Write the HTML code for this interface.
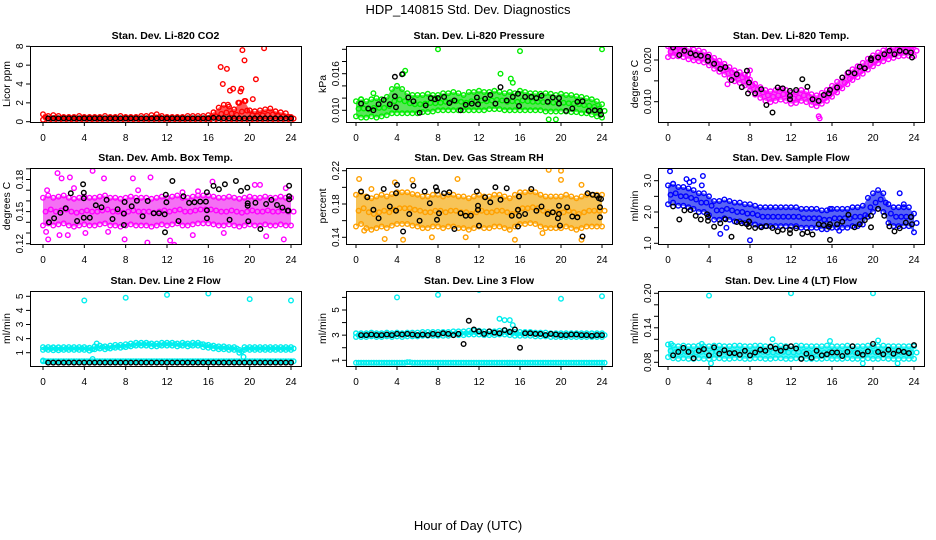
<!DOCTYPE html>
<html><head><meta charset="utf-8">
<style>
html,body{margin:0;padding:0;background:#fff;}
svg{display:block;font-family:"Liberation Sans",Arial,sans-serif;}
</style></head>
<body>
<svg id="chart" width="936" height="540" viewBox="0 0 936 540" xmlns="http://www.w3.org/2000/svg">
<text x="468" y="14" text-anchor="middle" font-size="13">HDP_140815  Std. Dev. Diagnostics</text>
<text x="468" y="530" text-anchor="middle" font-size="13">Hour of Day (UTC)</text>
</svg>
<script>
// ---------- data ----------
const xTicks=[0,4,8,12,16,20,24];
// P1 CO2
const co2Hi=[0.8,0.6,0.7,0.6,0.5,0.5,0.5,0.6,0.5,0.5, 0.5,0.5,0.6,0.5,0.5,0.6,0.5,0.5,0.5,0.6, 0.6,0.7,0.8,0.6,0.5,0.5,0.5,0.5,0.6,0.6, 0.6,0.6,0.7,1.0,1.5,1.8,1.6,1.3,2.0,2.2, 1.2,1.1,1.2,1.3,1.4,1.1,1.0,0.9,0.5];
const co2Lo=[0.2,0.15,0.15,0.15,0.15,0.15,0.15,0.15,0.15,0.15, 0.15,0.15,0.15,0.15,0.15,0.15,0.15,0.15,0.15,0.15, 0.15,0.15,0.15,0.15,0.15,0.15,0.15,0.15,0.15,0.15, 0.15,0.15,0.15,0.15,0.15,0.15,0.15,0.15,0.15,0.15, 0.15,0.15,0.15,0.15,0.15,0.15,0.15,0.15,0.15];
const co2OutH=[17.2,17.4,17.8,18.1,18.4,19.3,19.5,19.2,19.1,20.3,20.6,21.4,17.9,19.6,18.9];
const co2OutV=[5.8,4.0,5.6,3.3,3.5,7.6,6.5,3.5,3.2,2.4,4.5,7.8,1.8,2.2,2.0];
const co2Blk=[0.35,0.35,0.35,0.35,0.35,0.35,0.35,0.35,0.35,0.35, 0.35,0.35,0.35,0.35,0.35,0.35,0.35,0.35,0.35,0.35, 0.35,0.35,0.35,0.35,0.35,0.35,0.35,0.35,0.35,0.35, 0.35,0.35,0.4,0.38,0.36,0.35,0.35,0.35,0.35,0.35, 0.35,0.35,0.35,0.35,0.35,0.35,0.35,0.35];
// P2 Pressure
const prHi=[.0115,.0118,.0115,.0118,.0120,.0118,.0122,.0135,.0140,.0135, .0128,.0125,.0125,.0125,.0127,.0125,.0125,.0128,.0128,.0130, .0128,.0125,.0130,.0130,.0132,.0130,.0130,.0132,.0130,.0128, .0130,.0128,.0132,.0130,.0128,.0128,.0127,.0128,.0127,.0125, .0127,.0125,.0125,.0123,.0122,.0120,.0118,.0115,.0110];
const prLo=[.0090,.0088,.0088,.0090,.0088,.0090,.0092,.0095,.0095,.0095, .0095,.0095,.0095,.0097,.0097,.0098,.0100,.0100,.0100,.0100, .0100,.0100,.0100,.0100,.0100,.0100,.0102,.0102,.0102,.0100, .0100,.0100,.0100,.0100,.0100,.0100,.0100,.0098,.0098,.0098, .0098,.0098,.0097,.0097,.0095,.0095,.0093,.0090,.0088];
const prOutH=[8,16,24,4.8,14.1,15.1,1.7,0.5,18.8,19.5,15.3,4.6];
const prOutV=[.0200,.0197,.0200,.0165,.0160,.0152,.0128,.0118,.0085,.0085,.0145,.0160];
const prBlkH=[0.5,1.2,1.7,2.2,2.7,3.3,3.8,3.8,3.9,4.5,5.1,5.6,6.2,6.8,7.3,7.7,8.0,8.6,9.1,9.6,10.2,10.7,11.3,11.8,11.9,12.6,13.1,13.6,14.1,14.7,15.3,15.8,15.9,16.5,17.1,17.6,18.1,18.7,19.2,19.8,19.8,20.5,21.1,21.6,22.1,22.7,23.3,23.8,23.9];
const prBlkV=[.0111,.0103,.0100,.0110,.0117,.0110,.0155,.0123,.0105,.0159,.0121,.0115,.0096,.0108,.0120,.0118,.0120,.0122,.0112,.0116,.0100,.0109,.0111,.0121,.0110,.0119,.0125,.0111,.0138,.0116,.0122,.0127,.0107,.0122,.0122,.0120,.0124,.0114,.0121,.0111,.0120,.0099,.0103,.0114,.0115,.0099,.0100,.0099,.0093];
// P3 Li-820 Temp
const tmpMid=[.0220,.0222,.0222,.0220,.0215,.0212,.0210,.0207,.0200,.0192, .0185,.0178,.0170,.0162,.0158,.0152,.0140,.0130,.0122,.0115, .0112,.0115,.0118,.0115,.0108,.0110,.0115,.0112,.0105,.0102, .0108,.0115,.0125,.0135,.0145,.0155,.0165,.0172,.0180,.0190, .0198,.0205,.0210,.0215,.0218,.0222,.0223,.0223,.0222];
const tmpSpread=0.0013;
const tmpOutH=[14.7,14.8,5.8,8.0,7.8];
const tmpOutV=[.0065,.0060,.0142,.0175,.0165];
const tmpBlkH=[0.5,1.1,1.6,2.2,2.7,3.2,3.9,3.9,4.5,5.1,5.6,6.2,6.7,7.2,7.7,7.9,7.8,8.5,9.1,9.6,10.2,10.7,11.2,11.9,11.9,11.9,12.5,13.1,13.6,14.1,14.7,15.2,15.7,15.8,16.5,17.0,17.6,18.2,18.7,19.2,19.8,19.8,20.5,21.1,21.6,22.1,22.6,23.2,23.7,23.8];
const tmpBlkV=[.0230,.0212,.0222,.0216,.0212,.0210,.0208,.0198,.0191,.0179,.0183,.0152,.0166,.0135,.0174,.0146,.0120,.0120,.0130,.0092,.0074,.0134,.0132,.0126,.0114,.0106,.0128,.0154,.0136,.0106,.0102,.0116,.0120,.0128,.0134,.0158,.0170,.0168,.0184,.0180,.0200,.0204,.0206,.0214,.0222,.0214,.0222,.0220,.0218,.0206];
// P4 Amb box temp
const ambMid=[0.150,0.152,0.150,0.151,0.152,0.150,0.149,0.150,0.151,0.150, 0.150,0.151,0.152,0.150,0.150,0.149,0.150,0.151,0.150,0.150, 0.150,0.149,0.150,0.151,0.150,0.151,0.152,0.150,0.150,0.151, 0.152,0.152,0.152,0.151,0.150,0.150,0.151,0.150,0.149,0.150, 0.151,0.150,0.150,0.151,0.150,0.150,0.151,0.150,0.150];
const ambSpread=0.013;
const ambOutH=[1.4,1.8,2.6,4.8,5.9,0.4,8.7,10.4,16.4,20.5,21,23.5,0.3,0.5,1.6,7.9,10.1,12.7,18.9,23.3,4.1,6.3,14.5,17.5,21.6,2.4,12.3,3.0,9.2,13.5,15.0];
const ambOutV=[0.186,0.181,0.182,0.188,0.181,0.170,0.181,0.182,0.178,0.175,0.175,0.172,0.131,0.124,0.128,0.124,0.121,0.119,0.117,0.124,0.130,0.131,0.128,0.130,0.127,0.128,0.123,0.172,0.170,0.168,0.169];
const ambBlkH=[0.58,1.07,1.68,2.2,2.69,3.3,3.88,3.95,3.95,3.95,4.53,5.11,5.66,6.15,6.73,7.22,7.83,7.83,7.9,8.58,9.09,9.64,10.13,10.71,11.23,11.78,11.81,11.88,11.94,12.52,13.11,13.59,14.14,14.66,15.21,15.76,15.86,15.86,15.86,16.5,17.02,17.6,18.06,18.67,19.16,19.77,19.81,19.81,19.87,20.55,21.04,21.59,22.1,22.65,23.17,23.69,23.82,23.82,23.82,23.75];
const ambBlkV=[0.1400,0.1437,0.1490,0.1531,0.1671,0.1412,0.1755,0.1443,0.1677,0.1624,0.1443,0.1559,0.1540,0.1609,0.1431,0.1522,0.1481,0.1375,0.1590,0.1550,0.1602,0.1456,0.1599,0.1484,0.1484,0.1475,0.1307,0.1658,0.1587,0.1786,0.1412,0.1643,0.1581,0.1587,0.1593,0.1593,0.1681,0.1512,0.1437,0.1740,0.1709,0.1755,0.1424,0.1786,0.1693,0.1724,0.1578,0.1555,0.1409,0.1583,0.1337,0.1571,0.1609,0.1562,0.1537,0.1509,0.1643,0.1742,0.1615,0.1509];
// P5 Gas stream RH
const rhMid=[0.172,0.175,0.170,0.168,0.170,0.172,0.170,0.173,0.175,0.175, 0.175,0.173,0.172,0.170,0.170,0.172,0.172,0.170,0.172,0.172, 0.170,0.170,0.168,0.170,0.172,0.170,0.170,0.172,0.172,0.170, 0.168,0.172,0.175,0.175,0.176,0.175,0.172,0.170,0.170,0.170, 0.170,0.172,0.170,0.168,0.170,0.172,0.172,0.172,0.172];
const rhSpread=0.019;
const rhOutH=[0.3,0.8,2.8,4.6,5.5,7.4,9.9,10.7,15.5,18.8,20,20,22,22,18.2,3.8,1.5];
const rhOutV=[0.210,0.148,0.138,0.137,0.209,0.140,0.210,0.140,0.137,0.221,0.220,0.209,0.203,0.137,0.145,0.206,0.198];
const rhBlkH=[0.5,1.1,1.7,2.2,2.7,3.3,3.9,4.0,3.9,4.6,5.2,5.6,6.2,6.7,7.2,7.8,7.9,7.9,8.1,8.6,9.1,9.6,10.2,10.7,11.2,11.8,11.9,11.9,12.0,12.6,13.1,13.6,14.1,14.7,15.2,15.8,15.9,15.8,15.9,16.5,17.1,17.6,18.1,18.7,19.2,19.7,19.8,19.8,19.9,20.6,21.1,21.6,22.1,22.6,23.1,23.5,23.7,23.8,23.8,23.9];
const rhBlkV=[0.195,0.188,0.173,0.163,0.198,0.177,0.193,0.203,0.172,0.147,0.168,0.202,0.160,0.195,0.181,0.200,0.196,0.161,0.169,0.193,0.194,0.150,0.169,0.166,0.166,0.195,0.178,0.173,0.154,0.188,0.182,0.200,0.185,0.199,0.166,0.173,0.166,0.153,0.189,0.168,0.198,0.172,0.177,0.168,0.170,0.163,0.178,0.168,0.154,0.176,0.165,0.164,0.141,0.193,0.191,0.190,0.187,0.176,0.164,0.186];
// P6 Sample flow
const sfMid=[2.55,2.6,2.5,2.5,2.45,2.4,2.3,2.3,2.2,2.05, 2.05,2.1,2.05,2.0,2.0,1.95,1.95,1.9,1.85,1.85, 1.85,1.85,1.85,1.85,1.85,1.85,1.8,1.8,1.8,1.8, 1.75,1.75,1.8,1.8,1.8,1.8,1.85,1.85,1.9,2.15, 2.3,2.4,2.3,1.95,1.85,1.85,1.85,1.85,1.65];
const sfSpread=0.3;
const sfOutH=[0.2,0.5,1.8,2.1,2.5,3.4,3.3,5.1,5.7,8,22.6,23,16.7,15.8];
const sfOutV=[3.3,2.9,3.05,2.95,3.0,3.15,2.85,1.3,1.5,1.1,2.6,2.25,1.4,2.1];
const sfBlkH=[0.5,1.1,1.6,2.2,2.7,3.2,3.8,3.9,3.9,4.5,5.1,5.6,6.2,6.7,7.2,7.7,7.9,7.9,8.5,9.1,9.6,10.2,10.7,11.2,11.9,11.9,12.5,13.1,13.6,14.1,14.7,15.2,15.7,15.8,15.8,16.5,17.0,17.6,18.2,18.7,19.2,19.8,19.8,20.5,21.1,21.6,22.1,22.6,23.2,23.7,23.8];
const sfBlkV=[2.18,1.76,2.05,2.06,1.88,1.76,1.93,1.84,1.72,1.53,1.64,1.77,1.21,1.68,1.64,1.61,1.70,1.53,1.49,1.51,1.55,1.49,1.38,1.43,1.32,1.43,1.48,1.30,1.35,1.28,1.61,1.58,1.53,1.61,1.11,1.61,1.69,1.91,1.51,1.61,1.74,1.51,1.88,2.10,1.88,1.54,1.38,1.48,1.66,1.84,1.61];
// P7 Line 2 flow
const l2Mid=[1.3,1.3,1.28,1.28,1.3,1.3,1.3,1.3,1.3,1.25, 1.35,1.4,1.35,1.4,1.45,1.45,1.5,1.55,1.6,1.6, 1.6,1.55,1.55,1.6,1.6,1.6,1.55,1.6,1.55,1.6, 1.6,1.5,1.45,1.4,1.35,1.35,1.3,1.3,1.1,1.3, 1.3,1.3,1.3,1.3,1.3,1.3,1.3,1.3,1.3];
const l2Spread=0.1;
const l2Low=[0.4,0.4,0.4,0.4,0.4,0.4,0.4,0.4,0.4,0.4, 0.4,0.4,0.4,0.4,0.4,0.4,0.4,0.4,0.4,0.4, 0.4,0.4,0.4,0.4,0.4,0.4,0.4,0.4,0.4,0.4, 0.4,0.4,0.4,0.4,0.4,0.4,0.4,0.4,0.4,0.4, 0.4,0.4,0.4,0.4,0.4,0.4,0.4,0.4,0.4];
const l2OutH=[4,8,12,16,20,24,5.2,4.8,19.4,0];
const l2OutV=[4.7,4.9,5.1,5.2,4.8,4.7,1.65,0.55,0.7,0.45];
const l2Blk=[0.3,0.3,0.3,0.3,0.3,0.3,0.3,0.3,0.3,0.3, 0.3,0.3,0.3,0.3,0.3,0.3,0.3,0.3,0.3,0.3, 0.3,0.3,0.3,0.3,0.3,0.3,0.3,0.3,0.3,0.3, 0.3,0.3,0.3,0.3,0.3,0.3,0.3,0.3,0.3,0.3, 0.3,0.3,0.3,0.3,0.3,0.3,0.3,0.3];
// P8 Line 3 flow
const l3Mid=[3.0,3.0,3.0,3.05,3.0,3.0,3.05,3.0,3.05,3.0, 3.05,3.05,3.05,3.1,3.1,3.1,3.1,3.1,3.1,3.15, 3.15,3.15,3.2,3.2,3.2,3.15,3.15,3.15,3.2,3.2, 3.15,3.1,3.1,3.1,3.1,3.05,3.05,3.05,3.0,3.0, 3.0,3.0,3.0,3.0,3.0,3.0,3.0,3.0,3.0];
const l3Spread=0.15;
const l3Low=[0.8,0.8,0.8,0.8,0.8,0.8,0.8,0.8,0.8,0.8, 0.85,0.8,0.8,0.8,0.8,0.8,0.8,0.8,0.8,0.8, 0.8,0.8,0.8,0.8,0.8,0.8,0.8,0.8,0.8,0.8, 0.8,0.8,0.8,0.8,0.8,0.8,0.8,0.8,0.8,0.8, 0.8,0.8,0.8,0.8,0.8,0.8,0.8,0.8,0.8];
const l3OutH=[4,8,12,16,20,24,14,14.5,15,15.3];
const l3OutV=[6.0,6.2,6.6,6.9,5.9,6.1,4.3,4.2,4.2,3.8];
const l3Blk=[3.0,3.0,3.05,3.0,3.0,3.05,3.0,3.1,3.05,3.1, 3.05,3.0,3.05,3.0,3.1,3.05,3.15,3.1,3.0,3.1, 2.3,4.15,3.45,3.3,3.1,3.3,3.2,3.15,3.4,3.25, 3.45,2.0,3.15,3.15,3.1,3.1,3.0,3.1,3.05,3.0, 3.0,3.05,3.05,3.0,3.0,2.95,3.0,3.0];
// P9 Line 4 flow
const l4Mid=[0.100,0.098,0.097,0.098,0.097,0.097,0.098,0.097,0.097,0.098, 0.098,0.097,0.097,0.098,0.098,0.097,0.097,0.098,0.098,0.097, 0.097,0.098,0.098,0.097,0.097,0.098,0.098,0.097,0.097,0.097, 0.097,0.098,0.097,0.097,0.097,0.098,0.097,0.097,0.097,0.098, 0.097,0.097,0.098,0.097,0.097,0.097,0.097,0.097,0.097];
const l4Spread=0.011;
const l4OutH=[4,12,20,4.2,19,22.4,0.3,20.5,10.2,15.8,3.3];
const l4OutV=[0.196,0.20,0.20,0.078,0.078,0.078,0.112,0.118,0.120,0.117,0.112];
const l4Blk=[0.092,0.098,0.105,0.098,0.087,0.100,0.103,0.092,0.106,0.095, 0.101,0.096,0.096,0.093,0.100,0.092,0.097,0.102,0.100,0.107, 0.104,0.100,0.106,0.108,0.104,0.086,0.095,0.088,0.100,0.092, 0.094,0.097,0.097,0.091,0.098,0.108,0.096,0.093,0.099,0.112, 0.098,0.094,0.102,0.095,0.100,0.098,0.096,0.110];

// ---------- layout ----------
const NS="http://www.w3.org/2000/svg";
const svg=document.getElementById('chart');
const cols=[{L:30,R:301,h0:43,h24:291},{L:346,R:612,h0:356,h24:602},{L:658,R:924,h0:668,h24:914}];
const rows=[{T:46,B:122},{T:168,B:244},{T:291,B:366}];
function el(tag,attrs,parent){const e=document.createElementNS(NS,tag);for(const k in attrs)e.setAttribute(k,attrs[k]);(parent||svg).appendChild(e);return e;}
function halfHours(n,start){const a=[];for(let i=0;i<n;i++)a.push(start+i*0.5);return a;}
function bandFrom(mid,s){return {hi:mid.map(v=>v+s),lo:mid.map(v=>v-s)};}

const panels=[
 {c:0,r:0,title:"Stan. Dev. Li-820 CO2",ylab:"Licor ppm",col:"#ff0000",fill:"#ff2020",ref:[0,121.7,8,46.3],ticks:[0,2,4,6,8],labs:["0","2","4","6","8"],hi:co2Hi,lo:co2Lo,oh:co2OutH,ov:co2OutV,bh:halfHours(48,0.5),bv:co2Blk},
 {c:1,r:0,title:"Stan. Dev. Li-820 Pressure",ylab:"kPa",col:"#00ee00",fill:"#22dd22",ref:[0.010,110.3,0.016,73.7],ticks:[0.010,0.012,0.014,0.016,0.018,0.020],labs:["0.010","","","0.016","",""],hi:prHi,lo:prLo,oh:prOutH,ov:prOutV,bh:prBlkH,bv:prBlkV},
 {c:2,r:0,title:"Stan. Dev. Li-820 Temp.",ylab:"degrees C",col:"#ff00ff",fill:"#f020f0",ref:[0.010,101.7,0.020,60],ticks:[0.010,0.015,0.020],labs:["0.010","","0.020"],mid:tmpMid,sp:tmpSpread,oh:tmpOutH,ov:tmpOutV,bh:tmpBlkH,bv:tmpBlkV},
 {c:0,r:1,title:"Stan. Dev. Amb. Box Temp.",ylab:"degrees C",col:"#ff00ff",fill:"#f040f0",ref:[0.12,243.7,0.18,179.5],ticks:[0.12,0.13,0.14,0.15,0.16,0.17,0.18,0.19],labs:["0.12","","","0.15","","","0.18",""],mid:ambMid,sp:ambSpread,oh:ambOutH,ov:ambOutV,bh:ambBlkH,bv:ambBlkV},
 {c:1,r:1,title:"Stan. Dev. Gas Stream RH",ylab:"percent",col:"#ffa000",fill:"#f4b020",ref:[0.14,237.3,0.22,170.7],ticks:[0.14,0.16,0.18,0.20,0.22],labs:["0.14","","0.18","","0.22"],mid:rhMid,sp:rhSpread,oh:rhOutH,ov:rhOutV,bh:rhBlkH,bv:rhBlkV},
 {c:2,r:1,title:"Stan. Dev. Sample Flow",ylab:"ml/min",col:"#0000ff",fill:"#2030f0",ref:[1.0,243.3,3.0,180.7],ticks:[1.0,1.5,2.0,2.5,3.0],labs:["1.0","","2.0","","3.0"],mid:sfMid,sp:sfSpread,oh:sfOutH,ov:sfOutV,bh:sfBlkH,bv:sfBlkV},
 {c:0,r:2,title:"Stan. Dev. Line 2 Flow",ylab:"ml/min",col:"#00eeee",fill:"#20f0f0",ref:[1,352.7,5,296.3],ticks:[1,2,3,4,5],labs:["1","2","3","4","5"],mid:l2Mid,sp:l2Spread,low:l2Low,oh:l2OutH,ov:l2OutV,bh:halfHours(48,0.5),bv:l2Blk},
 {c:1,r:2,title:"Stan. Dev. Line 3 Flow",ylab:"ml/min",col:"#00eeee",fill:"#20f0f0",ref:[1,360.3,5,310],ticks:[1,2,3,4,5,6],labs:["1","","3","","5",""],mid:l3Mid,sp:l3Spread,low:l3Low,oh:l3OutH,ov:l3OutV,bh:halfHours(48,0.5),bv:l3Blk},
 {c:2,r:2,title:"Stan. Dev. Line 4 (LT) Flow",ylab:"ml/min",col:"#00eeee",fill:"#20f0f0",ref:[0.08,362.3,0.20,293.3],ticks:[0.08,0.10,0.12,0.14,0.16,0.18,0.20],labs:["0.08","","","0.14","","","0.20"],mid:l4Mid,sp:l4Spread,oh:l4OutH,ov:l4OutV,bh:halfHours(48,0.5),bv:l4Blk}
];

panels.forEach((p,pi)=>{
  const C=cols[p.c],R=rows[p.r];
  const xs=h=>C.h0+(h/24)*(C.h24-C.h0);
  const ys=v=>p.ref[1]+(v-p.ref[0])*(p.ref[3]-p.ref[1])/(p.ref[2]-p.ref[0]);
  const g=el('g',{});
  
  
  const clipId='clip'+pi;
  const cp=el('clipPath',{id:clipId},g);
  el('rect',{x:C.L,y:R.T,width:C.R-C.L,height:R.B-R.T},cp);
  const t=el('text',{x:(C.L+C.R)/2,y:R.T-7,'text-anchor':'middle','font-size':'10.5','font-weight':'bold'},g);
  t.textContent=p.title;
  
  
  const yl=el('text',{x:0,y:0,'text-anchor':'middle','font-size':'10.5',transform:`translate(${C.L-20},${(R.T+R.B)/2}) rotate(-90)`},g);
  yl.textContent=p.ylab;
  
  
  p.ticks.forEach((tv,i)=>{
    const y=ys(tv);
    const tk=el('line',{x1:C.L-4,x2:C.L,y1:y,y2:y,stroke:'#000','stroke-width':1},g);
    
    
    if(p.labs[i]){
      const tl=el('text',{x:0,y:0,'text-anchor':'middle','font-size':'10',transform:`translate(${C.L-7},${y}) rotate(-90)`},g);
      tl.textContent=p.labs[i];
      
      
    }
  });
  xTicks.forEach(h=>{
    const x=xs(h);
    const tk=el('line',{x1:x,x2:x,y1:R.B,y2:R.B+4,stroke:'#000','stroke-width':1},g);
    
    
    const tl=el('text',{x:x,y:R.B+19,'text-anchor':'middle','font-size':'10'},g);
    tl.textContent=String(h);
    
    
  });
  el('line',{x1:C.h0,x2:C.h24,y1:R.B+0.5,y2:R.B+0.5,stroke:'#000','stroke-width':1},g);
  const pg=el('g',{'clip-path':`url(#${clipId})`},g);
  
  
  let hi=p.hi,lo=p.lo;
  if(p.mid){const b=bandFrom(p.mid,p.sp);hi=b.hi;lo=b.lo;}
  const hh=halfHours(hi.length,0);
  let d='';
  hh.forEach((h,i)=>{d+=(i?'L':'M')+xs(h).toFixed(1)+','+ys(hi[i]).toFixed(1);});
  for(let i=hh.length-1;i>=0;i--)d+='L'+xs(hh[i]).toFixed(1)+','+ys(lo[i]).toFixed(1);
  const band=el('path',{d:d+'Z',fill:p.fill,'fill-opacity':0.75,stroke:'none'},pg);
  
  
  const pt=(h,v,col,nm)=>{
    const c=el('circle',{cx:xs(h).toFixed(1),cy:ys(v).toFixed(1),r:2.3,fill:'none',stroke:col,'stroke-width':1.4},pg);
    
    
  };
  hh.forEach((h,i)=>{pt(h,hi[i],p.col,'series-point');pt(h,lo[i],p.col,'series-point');pt(h+0.25,(hi[i]+lo[i])/2,p.col,'series-point');});
  if(p.low)hh.forEach((h,i)=>{pt(h,p.low[i],p.col,'lower-series-point');pt(h+0.25,p.low[i],p.col,'lower-series-point');});
  p.oh.forEach((h,i)=>pt(h,p.ov[i],p.col,'outlier-point'));
  p.bh.forEach((h,i)=>pt(h,p.bv[i],'#000','hourly-point'));
  const box=el('rect',{x:C.L+0.5,y:R.T+0.5,width:C.R-C.L,height:R.B-R.T,fill:'none',stroke:'#000','stroke-width':1},g);
  
  
});
</script>
</body></html>
